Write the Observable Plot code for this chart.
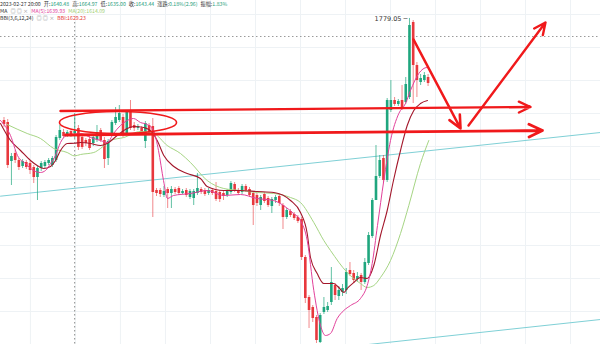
<!DOCTYPE html>
<html><head><meta charset="utf-8">
<script src="https://cdn.jsdelivr.net/npm/d3@7"></script>
<script src="https://cdn.jsdelivr.net/npm/@observablehq/plot@0.6"></script>
<style>
html,body{margin:0;padding:0;background:#fff;}
#wrap{position:relative;width:600px;height:344px;overflow:hidden;}
#legend{position:absolute;left:0;top:0;font-family:"Noto Sans CJK SC","Noto Sans",sans-serif;font-size:5.2px;line-height:1;white-space:nowrap;color:#333;}
#legend div{position:absolute;left:0;}
#legend span{margin-right:3px;}
.g{color:#1f9d7a}.gr{color:#9a9a9a}
</style></head><body>
<div id="wrap"><div id="chart"></div>
<div id="legend">
<div style="top:1px"><span>2023-02-27 20:00</span><span>开:<b class="g" style="font-weight:normal">1640.48</b></span><span>高:<b class="g" style="font-weight:normal">1664.97</b></span><span>低:<b class="g" style="font-weight:normal">1635.00</b></span><span>收:<b class="g" style="font-weight:normal">1643.44</b></span><span>涨跌:<b class="g" style="font-weight:normal">0.18%(2.96)</b></span><span>振幅:<b class="g" style="font-weight:normal">1.83%</b></span></div>
<div style="top:8px"><span>MA</span><span class="gr">◎ ◎ ×</span><span style="color:#e2409a">MA(5):1639.93</span><span style="color:#9fcf72">MA(20):1614.09</span></div>
<div style="top:15px"><span>BBI(3,6,12,24)</span><span class="gr">◎ ◎ ×</span><span style="color:#e53935">BBI:1629.23</span></div>
</div></div>
<script>
// Candle values (ETH 4h), index 0..114
const opens = [1656.6,1654.2,1607.4,1617.0,1608.6,1601.4,1606.2,1605.0,1600.2,1588.2,
1599.0,1601.4,1605.0,1602.6,1608.6,1635.0,1642.2,1638.6,1643.4,1640.48,
1647.0,1636.2,1632.6,1633.8,1629.0,1632.6,1644.6,1632.6,1611.0,1641.0,
1653.0,1656.6,1660.2,1641.0,1668.6,1650.6,1647.0,1647.0,1631.4,1650.6,
1649.4,1572.6,1572.6,1566.6,1573.8,1569.0,1573.8,1575.0,1569.0,1572.6,
1564.2,1563.0,1569.0,1573.8,1572.6,1569.0,1572.6,1571.4,1570.2,1569.0,
1566.6,1570.2,1579.8,1572.6,1570.2,1577.4,1573.8,1569.0,1566.6,1554.6,
1567.8,1563.0,1553.4,1560.6,1565.4,1554.6,1540.2,1547.4,1543.8,1540.2,
1537.8,1492.2,1444.2,1432.2,1420.2,1390.2,1426.2,1428.6,1438.2,1458.6,
1445.4,1450.2,1452.6,1476.6,1473.0,1465.8,1470.6,1462.2,1485.0,1517.4,
1560.6,1589.4,1611.0,1584.6,1668.6,1680.6,1675.8,1680.6,1678.2,1684.2,
1774.2,1722.6,1702.2,1704.6,1708.2];
const closes = [1651.8,1602.6,1613.4,1608.6,1600.2,1607.4,1600.2,1596.6,1588.2,1599.0,
1605.0,1606.2,1608.6,1611.0,1636.2,1644.6,1637.4,1642.2,1638.6,1643.44,
1624.2,1624.2,1629.0,1623.0,1636.2,1642.2,1632.6,1609.8,1631.4,1654.2,
1660.2,1665.0,1638.6,1666.2,1647.0,1647.0,1649.4,1642.2,1653.0,1642.2,
1570.2,1569.0,1567.8,1571.4,1569.0,1573.8,1570.2,1569.0,1571.4,1566.6,
1571.4,1571.4,1575.0,1570.2,1567.8,1572.6,1569.0,1561.8,1561.8,1565.4,
1571.4,1581.0,1572.6,1569.0,1577.4,1572.6,1566.6,1554.6,1557.0,1564.2,
1559.4,1554.6,1561.8,1564.2,1557.0,1540.2,1548.6,1542.6,1539.0,1535.4,
1492.2,1443.0,1428.6,1419.0,1392.6,1422.6,1432.2,1433.4,1462.2,1446.6,
1452.6,1455.0,1474.2,1471.8,1464.6,1469.4,1462.2,1486.2,1518.6,1560.6,
1589.4,1608.6,1584.6,1680.6,1680.6,1675.8,1679.4,1672.2,1699.8,1770.6,
1722.6,1704.6,1707.0,1710.6,1701.0];
const highs = [1660.2,1657.8,1617.0,1620.6,1611.0,1609.8,1608.6,1607.4,1602.6,1601.4,
1607.4,1608.6,1611.0,1613.4,1638.6,1650.6,1645.8,1644.6,1645.8,1664.97,
1650.6,1639.8,1635.0,1637.4,1638.6,1650.6,1647.0,1636.2,1633.8,1656.6,
1672.2,1674.6,1663.8,1668.6,1680.6,1654.2,1651.8,1649.4,1655.4,1653.0,
1659.0,1575.0,1575.0,1577.4,1576.2,1577.4,1576.2,1577.4,1573.8,1575.0,
1573.8,1573.8,1593.0,1576.2,1575.0,1575.0,1575.0,1582.2,1572.6,1571.4,
1573.8,1583.4,1582.2,1575.0,1579.8,1579.8,1576.2,1571.4,1569.0,1566.6,
1570.2,1565.4,1564.2,1566.6,1567.8,1557.0,1551.0,1549.8,1546.2,1542.6,
1540.2,1494.6,1446.6,1434.6,1422.6,1425.0,1444.2,1438.2,1480.2,1461.0,
1457.4,1459.8,1479.0,1486.2,1476.6,1474.2,1473.0,1491.0,1522.2,1563.0,
1626.6,1614.6,1614.6,1683.0,1704.6,1684.2,1681.8,1698.6,1708.2,1779.05,
1776.6,1726.2,1711.8,1714.2,1711.8];
const lows = [1648.2,1599.0,1578.6,1605.0,1596.6,1599.0,1597.8,1591.8,1581.0,1560.6,
1595.4,1599.0,1602.6,1600.2,1606.2,1632.6,1635.0,1636.2,1636.2,1635.00,
1620.6,1621.8,1625.4,1620.6,1625.4,1630.2,1630.2,1599.0,1602.6,1637.4,
1650.6,1654.2,1636.2,1638.6,1644.6,1643.4,1644.6,1639.8,1623.0,1639.8,
1540.2,1565.4,1564.2,1564.2,1551.0,1551.0,1567.8,1566.6,1567.8,1564.2,
1561.8,1554.6,1566.6,1567.8,1565.4,1566.6,1566.6,1559.4,1558.2,1560.6,
1564.2,1567.8,1570.2,1566.6,1567.8,1570.2,1564.2,1530.6,1553.4,1548.6,
1557.0,1552.2,1545.0,1557.0,1553.4,1525.8,1537.8,1540.2,1536.6,1533.0,
1488.6,1437.0,1407.0,1414.2,1389.0,1389.0,1423.8,1426.2,1434.6,1440.6,
1440.6,1445.4,1447.8,1469.4,1461.0,1462.2,1452.6,1459.8,1482.6,1515.0,
1582.2,1587.0,1581.0,1582.2,1666.2,1673.4,1673.4,1668.6,1675.8,1681.8,
1677.0,1684.2,1698.6,1702.2,1697.4];

// Indicator lines: [candle index, price]
const ma5 = [[-0.94,1656.6],[1.75,1638.6],[3.63,1614.6],[5.78,1605.0],[7.93,1596.6],[9.81,1594.2],[11.16,1596.6],[12.5,1605.0],[13.84,1614.6],[15.19,1630.2],[16.8,1638.6],[18.95,1639.93],[20.56,1641.0],[23.25,1636.2],[25.94,1632.6],[27.74,1630.2],[29.44,1641.0],[31.32,1650.6],[33.12,1656.6],[34.81,1659.0],[36.69,1654.2],[38.5,1651.8],[40.19,1644.6],[41.53,1620.6],[42.88,1584.6],[43.95,1563.0],[45.56,1566.6],[50.13,1569.0],[54.62,1572.6],[59.0,1566.6],[63.58,1567.8],[68.06,1563.0],[72.45,1560.6],[75.13,1554.6],[77.82,1545.0],[79.7,1536.6],[81.51,1512.6],[83.28,1452.6],[85.08,1410.6],[86.42,1398.6],[87.77,1401.0],[89.57,1419.0],[91.34,1428.6],[93.15,1434.6],[95.83,1443.0],[97.63,1458.6],[98.98,1485.0],[100.4,1530.6],[102.1,1584.6],[103.9,1632.6],[106.13,1665.0],[107.93,1677.0],[109.27,1692.6],[111.5,1713.0],[113.76,1720.2],[114.65,1714.2]];
const bbi = [[-0.94,1653.0],[1.75,1632.6],[4.44,1620.6],[7.12,1608.6],[8.92,1602.6],[10.7,1599.0],[12.5,1601.4],[13.84,1608.6],[15.19,1620.6],[16.99,1629.0],[18.95,1629.23],[20.56,1630.2],[23.25,1629.0],[25.94,1626.6],[27.74,1629.0],[30.43,1638.6],[33.12,1647.0],[34.89,1649.4],[37.58,1648.2],[39.84,1642.2],[41.18,1632.6],[42.96,1614.6],[45.65,1601.4],[49.25,1593.0],[52.82,1587.0],[54.62,1577.4],[59.0,1572.6],[63.58,1572.6],[68.06,1571.4],[72.53,1570.2],[77.02,1560.6],[79.7,1546.2],[81.51,1521.0],[82.39,1492.2],[84.19,1473.0],[85.97,1461.0],[88.66,1461.0],[90.0,1456.2],[91.34,1450.2],[92.26,1455.0],[94.03,1462.2],[95.83,1468.2],[97.63,1467.0],[99.41,1482.6],[101.21,1518.6],[103.01,1548.6],[104.7,1584.6],[106.59,1620.6],[108.39,1650.6],[110.16,1668.6],[111.96,1677.0],[113.84,1680.6]];
const ma20 = [[0.86,1651.8],[6.24,1641.0],[9.81,1635.0],[13.39,1623.0],[16.99,1618.2],[18.95,1614.09],[20.56,1615.8],[24.14,1618.2],[25.94,1623.0],[28.63,1632.6],[32.2,1636.2],[36.69,1643.4],[40.27,1641.0],[43.87,1626.6],[47.45,1617.0],[50.13,1606.2],[54.62,1584.6],[59.09,1575.0],[63.58,1572.6],[68.06,1570.2],[72.53,1569.0],[77.02,1564.2],[79.7,1558.2],[83.28,1534.2],[85.97,1512.6],[87.77,1500.6],[92.26,1474.2],[95.83,1461.0],[97.63,1456.2],[99.41,1458.6],[101.21,1468.2],[103.9,1488.6],[106.59,1521.0],[108.82,1554.6],[111.96,1605.0],[114.19,1632.6]];

// Grid ticks, crosshair, channel and drawn annotations (data space)
const gridPrices = [1783.8,1744.2,1704.6,1665.0,1625.4,1585.8,1546.2,1506.6,1467.0,1427.4,1387.8];
const gridIdx = [7.1,19.2,31.3,43.4,55.5,67.6,79.7,91.8,103.9,116.0,128.1,140.2,152.3];
const crossIdx = 19, crossPrice = 1757.4;
const channelUpper = [[-0.94,1565.8],[160.35,1642.2]];
const channelLower = [[97.98,1387.8],[160.35,1417.8]];
const upperArrow = [{x1:15.19,y1:1668.0,x2:141.53,y2:1672.8}];
const lowerArrow = [{x1:16.53,y1:1639.2,x2:144.76,y2:1644.6}];
const downArrow = [{x1:110.08,y1:1753.8,x2:122.72,y2:1647.0}];
const upArrow = [{x1:124.87,y1:1650.6,x2:145.56,y2:1774.2}];
const ellipse = {i:30.78, p:1653.6, ri:15.73, rp:13.2};
const peakLabel = [{i:109, p:1779.05, t:"1779.05 ─"}];

const rows = opens.map((o,i)=>({i, o, c:closes[i], h:highs[i], l:lows[i]}));
const ups = rows.filter(d=>d.c>=d.o), downs = rows.filter(d=>d.c<d.o);
const UP="#1fa67e", DOWN="#e8383d", RED="#f0191b";
const P = d=>d[0], V = d=>d[1];

const chart = Plot.plot({
  width:600, height:344, margin:0,
  x:{domain:[-0.94,160.35], axis:null},
  y:{domain:[1387.8,1800.6], axis:null},
  style:{background:"#fff", overflow:"hidden"},
  marks:[
    Plot.ruleY(gridPrices,{stroke:"#eef2f5", strokeWidth:1}),
    Plot.ruleX(gridIdx,{stroke:"#eef2f5", strokeWidth:1}),
    Plot.ruleY([crossPrice],{stroke:"#9a9a9a", strokeDasharray:"1.5,2.5"}),
    Plot.ruleX([crossIdx],{y1:1774.2, y2:1387.8, stroke:"#8a8a8a", strokeDasharray:"1.5,2.5"}),
    Plot.line(channelUpper,{x:P,y:V,stroke:"#7fd0d6",strokeWidth:1}),
    Plot.line(channelLower,{x:P,y:V,stroke:"#7fd0d6",strokeWidth:1}),
    Plot.ruleX(ups,{x:"i",y1:"l",y2:"h",stroke:UP,strokeOpacity:0.7}),
    Plot.ruleX(downs,{x:"i",y1:"l",y2:"h",stroke:DOWN,strokeOpacity:0.6}),
    Plot.ruleX(ups,{x:"i",y1:"o",y2:"c",stroke:UP,strokeWidth:2.6}),
    Plot.ruleX(downs,{x:"i",y1:"o",y2:"c",stroke:DOWN,strokeWidth:2.6}),
    Plot.line(ma20,{x:P,y:V,stroke:"#a6d584",strokeWidth:1,curve:"monotone-x"}),
    Plot.line(bbi,{x:P,y:V,stroke:"#a3172b",strokeWidth:1.1,curve:"monotone-x"}),
    Plot.line(ma5,{x:P,y:V,stroke:"#e2409a",strokeWidth:1,curve:"monotone-x"}),
    Plot.text(peakLabel,{x:"i",y:"p",text:"t",textAnchor:"end",dx:-2,fontSize:6.5,fill:"#333",fontFamily:"DejaVu Sans"}),
    Plot.arrow(upperArrow,{x1:"x1",y1:"y1",x2:"x2",y2:"y2",stroke:RED,strokeWidth:2.4,headLength:8,headAngle:50}),
    Plot.arrow(lowerArrow,{x1:"x1",y1:"y1",x2:"x2",y2:"y2",stroke:RED,strokeWidth:2.8,headLength:8,headAngle:50}),
    Plot.arrow(downArrow,{x1:"x1",y1:"y1",x2:"x2",y2:"y2",stroke:RED,strokeWidth:2.6,headLength:8,headAngle:50}),
    Plot.arrow(upArrow,{x1:"x1",y1:"y1",x2:"x2",y2:"y2",stroke:RED,strokeWidth:2.4,headLength:8,headAngle:50})
  ]
});
document.getElementById("chart").appendChild(chart);
const sx = chart.scale("x"), sy = chart.scale("y");
const cx = sx.apply(ellipse.i), cy = sy.apply(ellipse.p);
d3.select(chart).append("ellipse")
  .attr("cx",cx).attr("cy",cy)
  .attr("rx",sx.apply(ellipse.i+ellipse.ri)-cx)
  .attr("ry",sy.apply(ellipse.p-ellipse.rp)-cy)
  .attr("fill","none").attr("stroke",RED).attr("stroke-width",1.6);
</script>
</body></html>
